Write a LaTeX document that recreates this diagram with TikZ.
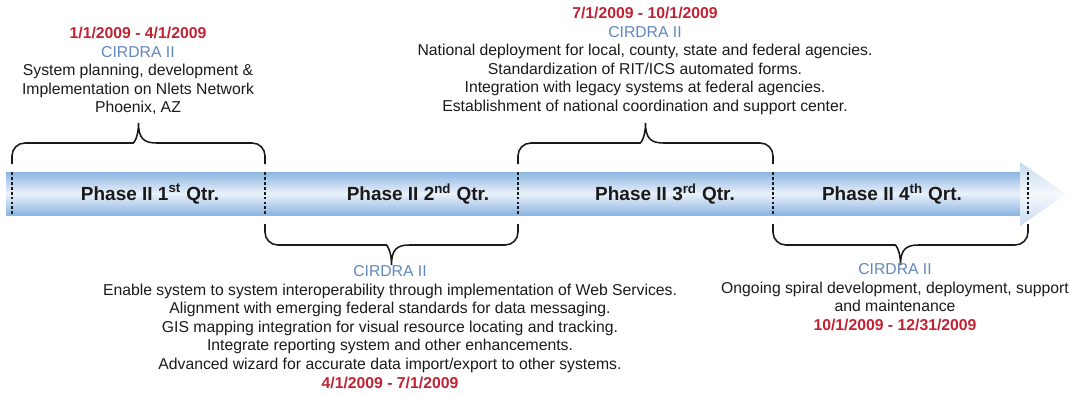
\documentclass[tikz,border=0pt]{standalone}
\usepackage{fontspec}
\setmainfont{Liberation Sans}
\usetikzlibrary{calc}
\definecolor{dateRed}{RGB}{192,36,52}
\definecolor{cirdraBlue}{RGB}{98,134,190}
\definecolor{bandBlue}{RGB}{140,182,226}
\definecolor{bandLight}{RGB}{234,241,250}
\definecolor{inkGray}{RGB}{26,26,26}

\begin{document}
\begin{tikzpicture}[x=0.025cm, y=-0.025cm, font=\fontsize{11.2}{13.2}\selectfont, text=inkGray,
    phase/.style={font=\fontsize{13.5}{15}\selectfont\bfseries},
    info/.style={align=center, inner sep=0pt},
    bracket/.style={draw=inkGray, line width=1.1pt},
    divider/.style={draw=inkGray, line width=1.4pt, dash pattern=on 2pt off 1.5pt}]
        \useasboundingbox (0,0) rectangle (1076,394);
        % timeline band and head
        \shade[top color=bandBlue, bottom color=bandBlue, middle color=bandLight] (6,172) rectangle (1021,215);
        \shade[top color=bandBlue!50, bottom color=bandBlue!50, middle color=bandLight!45] (1020,162) -- (1066,194) -- (1020,226) -- cycle;
        % quarter limits
        \foreach \i/\x in {0/12,1/265,2/518,3/773,4/1028}
          \coordinate (q\i) at (\x,194);
        \foreach \i in {0,...,4}
          \draw[divider] ($(q\i)+(0,-22)$) -- ($(q\i)+(0,21)$);
        % brackets, up for odd quarters, down for even ones
        \foreach \a/\b/\s in {0/1/-1, 1/2/1, 2/3/-1, 3/4/1} {
          \coordinate (m) at ($(q\a)!0.5!(q\b)$);
          \draw[bracket] ($(q\a)+(0,\s*30)$) [rounded corners=3.2mm] -- ($(q\a)+(0,\s*51)$) -- ($(m)+(-18,\s*51)$) [sharp corners]
            .. controls ($(m)+(-5,\s*51)$) and ($(m)+(0,\s*56)$) .. ($(m)+(0,\s*71)$)
            .. controls ($(m)+(0,\s*56)$) and ($(m)+(5,\s*51)$) .. ($(m)+(18,\s*51)$)
            [rounded corners=3.2mm] -- ($(q\b)+(0,\s*51)$) -- ($(q\b)+(0,\s*30)$);
        }
        % quarter names
        \node[phase] (p1) at (150,194) {Phase II 1\textsuperscript{st} Qtr.};
        \node[phase] (p2) at (418,194) {Phase II 2\textsuperscript{nd} Qtr.};
        \node[phase] (p3) at (665,194) {Phase II 3\textsuperscript{rd} Qtr.};
        \node[phase] (p4) at (892,194) {Phase II 4\textsuperscript{th} Qrt.};
        % quarter descriptions
        \node[info] (n1) at (138,71) {\textcolor{dateRed}{\bfseries 1/1/2009 - 4/1/2009}\\
          \textcolor{cirdraBlue}{CIRDRA II}\\
          System planning, development \&\\
          Implementation on Nlets Network\\
          Phoenix, AZ};
        \node[info] (n3) at (645,61) {\textcolor{dateRed}{\bfseries 7/1/2009 - 10/1/2009}\\
          \textcolor{cirdraBlue}{CIRDRA II}\\
          National deployment for local, county, state and federal agencies.\\
          Standardization of RIT/ICS automated forms.\\
          Integration with legacy systems at federal agencies.\\
          Establishment of national coordination and support center.};
        \node[info] (n2) at (390,327) {\textcolor{cirdraBlue}{CIRDRA II}\\
          Enable system to system interoperability through implementation of Web Services.\\
          Alignment with emerging federal standards for data messaging.\\
          GIS mapping integration for visual resource locating and tracking.\\
          Integrate reporting system and other enhancements.\\
          Advanced wizard for accurate data import/export to other systems.\\
          \textcolor{dateRed}{\bfseries 4/1/2009 - 7/1/2009}};
        \node[info] (n4) at (895,297) {\textcolor{cirdraBlue}{CIRDRA II}\\
          Ongoing spiral development, deployment, support\\
          and maintenance\\
          \textcolor{dateRed}{\bfseries 10/1/2009 - 12/31/2009}};
\end{tikzpicture}
\end{document}
